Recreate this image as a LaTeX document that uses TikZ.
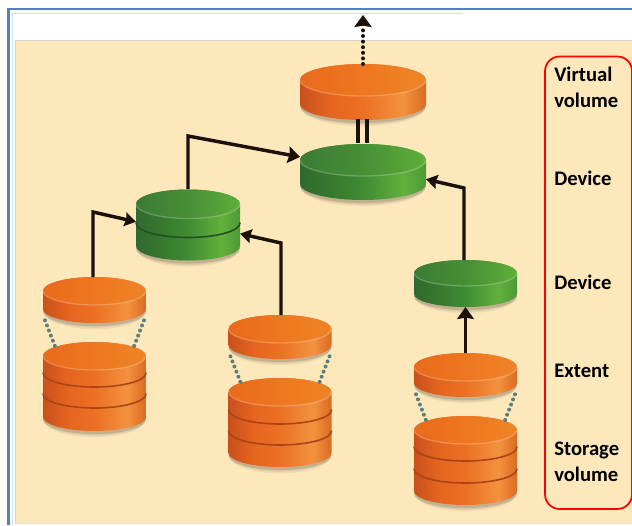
\documentclass[tikz,border=0pt]{standalone}
\usepackage{fontspec}
\setmainfont{Carlito}
\usetikzlibrary{arrows.meta,calc}
\definecolor{panelbg}{HTML}{FDE8BC}
\definecolor{frameblue}{HTML}{4F81BD}
\definecolor{linkdark}{HTML}{1C110A}
\definecolor{dotgrey}{HTML}{5F7D7C}
\definecolor{cB}{HTML}{C9501D}\definecolor{cC}{HTML}{E5651F}\definecolor{cD}{HTML}{EC7024}\definecolor{cE}{HTML}{F3923F}\definecolor{cF}{HTML}{DB6A22}
\definecolor{tA}{HTML}{E96A1C}\definecolor{tB}{HTML}{EE7720}\definecolor{tC}{HTML}{EE8427}
\definecolor{gB}{HTML}{2E6A2E}\definecolor{gC}{HTML}{37782F}\definecolor{gD}{HTML}{3F8C34}\definecolor{gE}{HTML}{62B03C}\definecolor{gF}{HTML}{4C9A36}
\definecolor{uA}{HTML}{3A7C34}\definecolor{uB}{HTML}{478F36}\definecolor{uC}{HTML}{5EAF3A}
\pgfdeclarehorizontalshading{orangeside}{100bp}{color(0bp)=(cB);color(25bp)=(cB);color(37bp)=(cC);color(50bp)=(cD);color(66bp)=(cE);color(75bp)=(cF);color(100bp)=(cF)}
\pgfdeclarehorizontalshading{orangetop}{100bp}{color(0bp)=(tA);color(25bp)=(tA);color(50bp)=(tB);color(75bp)=(tC);color(100bp)=(tC)}
\pgfdeclarehorizontalshading{greenside}{100bp}{color(0bp)=(gB);color(25bp)=(gB);color(37bp)=(gC);color(50bp)=(gD);color(66bp)=(gE);color(75bp)=(gF);color(100bp)=(gF)}
\pgfdeclarehorizontalshading{greentop}{100bp}{color(0bp)=(uA);color(25bp)=(uA);color(50bp)=(uB);color(75bp)=(uC);color(100bp)=(uC)}
\tikzset{
  bandline/.style={line width=1.2pt,line cap=round},
  linkline/.style={draw=linkdark,line width=2.6pt,line join=miter},
  bigtip/.style={-{Stealth[length=9pt,width=12.5pt,inset=1pt]}},
  smalltip/.style={-{Stealth[length=8.5pt,width=10.5pt,inset=1pt]}},
  dotlink/.style={draw=dotgrey,line width=3pt,line cap=round,dash pattern=on 0pt off 4.1pt},
  toplink/.style={draw=linkdark,line width=3pt,line cap=round,dash pattern=on 0pt off 4.2pt},
  labeltext/.style={font=\bfseries\fontsize{15.5}{19.5}\selectfont,text=black,anchor=west,align=left,inner sep=0pt},
  anchorbox/.style={inner sep=0pt,outer sep=0pt,rectangle}
}
% bands, cx, rx, top-ellipse centre y, bottom-ellipse centre y, ry, side shading, top shading, band colour
\newcommand{\discstack}[9]{%
  \pgfmathsetmacro{\rxp}{#3*0.75}\pgfmathsetmacro{\ryp}{#6*0.75}%
  \foreach \gr/\op in {4/0.05,2.5/0.08,1/0.12}{
    \fill[black,opacity=\op] (#2,#5+2) ellipse [x radius=\rxp pt,y radius=\ryp pt+\gr pt*0.8];
  }
  \shade[shading=#7] (#2-#3,#4) -- (#2-#3,#5)
     arc[start angle=180,end angle=360,x radius=\rxp pt,y radius=\ryp pt] -- (#2+#3,#4)
     arc[start angle=0,end angle=180,x radius=\rxp pt,y radius=\ryp pt] -- cycle;
  \foreach \by in {#1}{
    \draw[bandline,draw=#9] (#2-#3,\by)
     arc[start angle=180,end angle=360,x radius=\rxp pt,y radius=\ryp pt];
  }
  \shade[shading=#8] (#2,#4) ellipse [x radius=\rxp pt,y radius=\ryp pt];
  \draw[white,opacity=.22,line width=1pt] (#2-#3,#4)
     arc[start angle=180,end angle=360,x radius=\rxp pt,y radius=\ryp pt];
}
\newcommand{\anchorfor}[5]{% name cx rx ytop ybot
  \pgfmathsetmacro{\boxw}{2*#3*0.75}\pgfmathsetmacro{\boxh}{(#5-#4)*0.75}%
  \node[anchorbox,minimum width=\boxw pt,minimum height=\boxh pt] (#1) at (#2,{(#4+#5)/2}) {};
}
\begin{document}
\begin{tikzpicture}[x=0.75pt,y=-0.75pt]
\useasboundingbox (0,0) rectangle (632,525);
\fill[white] (0,0) rectangle (632,525);
% frame and panel
\draw[draw=frameblue,line width=1.6pt] (632,9) -- (8.5,9) -- (8.5,525);
\draw[draw=frameblue!25,line width=1pt] (463,13.5) -- (12.5,13.5) -- (12.5,525);
\fill[panelbg] (15,40) rectangle (632,523);
\draw[draw=black!18,line width=0.7pt] (632,40) -- (15,40) -- (15,523);
\draw[draw=black!12,line width=0.7pt] (15,523) -- (632,523);
% discs
\discstack{}{363}{63}{80}{104}{16}{orangeside}{orangetop}{black}
\discstack{}{363}{63}{160}{184}{16}{greenside}{greentop}{black}
\discstack{223}{188}{52}{204}{246}{14.5}{greenside}{greentop}{gB!75!black}
\discstack{}{465.5}{51.5}{273}{294}{13}{greenside}{greentop}{black}
\discstack{}{94.5}{51.5}{291}{309}{14}{orangeside}{orangetop}{black}
\discstack{373,394}{94.5}{51.5}{356}{417}{14}{orangeside}{orangetop}{cB!85!black}
\discstack{}{280}{51.5}{329}{345}{14}{orangeside}{orangetop}{black}
\discstack{410,431}{280}{51.5}{392}{453}{14}{orangeside}{orangetop}{cB!85!black}
\discstack{}{465.5}{51.5}{367}{383}{14}{orangeside}{orangetop}{black}
\discstack{447,469}{465.5}{51.5}{430}{491}{14}{orangeside}{orangetop}{cB!85!black}
% named anchors
\anchorfor{vv}{363}{63}{64}{119}
\anchorfor{dA}{363}{63}{143}{200}
\anchorfor{dB}{188}{52}{189}{260}
\anchorfor{dC}{465.5}{51.5}{260}{307}
\anchorfor{eA}{94.5}{51.5}{277}{323}
\anchorfor{sA}{94.5}{51.5}{342}{431}
\anchorfor{eB}{280}{51.5}{315}{359}
\anchorfor{sB}{280}{51.5}{378}{467}
\anchorfor{eC}{465.5}{51.5}{353}{397}
\anchorfor{sC}{465.5}{51.5}{416}{505}
% free end and bend points
\coordinate (vvtop) at (363,15);
\coordinate (bendBA) at (188,136);
\coordinate (bendAB) at (93,212);
\coordinate (bendEB) at (281,243);
\coordinate (bendDC) at (464,188);
% connectors
\draw[toplink,-{Stealth[length=9pt,width=13pt,inset=1pt]}] (vv.north) -- (vvtop);
\draw[linkline,line width=2.8pt] ([xshift=-3.6pt]vv.south) -- ([xshift=-3.6pt]dA.north);
\draw[linkline,line width=2.8pt] ([xshift=3.2pt]vv.south) -- ([xshift=3.2pt]dA.north);
\draw[linkline,bigtip] (dB.north) -- (bendBA) -- (dA.167);
\draw[linkline,smalltip] (eA.north -| bendAB) -- (bendAB) -- (dB.177);
\draw[linkline,smalltip] (eB.north -| bendEB) -- (bendEB) -- (dB.-10);
\draw[linkline,smalltip] (dC.north -| bendDC) -- (bendDC) -- (dA.-7);
\draw[linkline,bigtip] (eC.north) -- (dC.south);
% dotted joins
\foreach \upper/\lower in {eA/sA,eB/sB,eC/sC}{
  \draw[dotlink] ([xshift=1.5pt,yshift=2pt]\upper.south west) -- ([xshift=9pt,yshift=-3.2pt]\lower.north west);
  \draw[dotlink] ([xshift=-1.5pt,yshift=2pt]\upper.south east) -- ([xshift=-9pt,yshift=-3.2pt]\lower.north east);
}
% legend
\draw[draw=red,line width=1.3pt,rounded corners=11pt] (545,56.5) rectangle (632,509);
\node[labeltext] (lv) at (554,87.5) {Virtual\\volume};
\node[labeltext] (ld) at (554,178) {Device};
\node[labeltext] (ld2) at (554,282) {Device};
\node[labeltext] (le) at (554,371) {Extent};
\node[labeltext] (ls) at (554,462) {Storage\\volume};
\end{tikzpicture}
\end{document}
